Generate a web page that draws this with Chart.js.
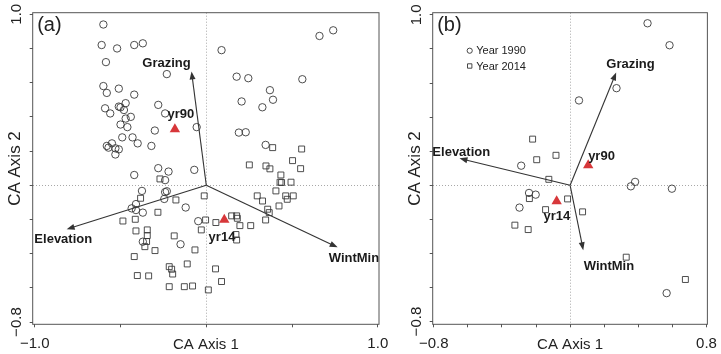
<!DOCTYPE html>
<html>
<head>
<meta charset="utf-8">
<script src="https://cdn.jsdelivr.net/npm/chart.js@4.4.0/dist/chart.umd.min.js"></script>
<style>
  html, body { margin: 0; padding: 0; background: #fff; overflow: hidden; }
  #wrap { position: relative; width: 721px; height: 354px; }
  canvas { position: absolute; top: 0; }
  #chartA { left: 0; }
  #chartB { left: 400px; }
</style>
</head>
<body>
<div id="wrap">
  <canvas id="chartA" width="400" height="354"></canvas>
  <canvas id="chartB" width="325" height="354"></canvas>
</div>
<script>
// ---- panel (a): site scores
const sites90XA = [-0.60, -0.61, -0.52, -0.42, -0.37, -0.585, -0.23, -0.60, -0.58, -0.51, -0.42, -0.59, -0.56, -0.51, -0.50, -0.47, -0.48, -0.44, -0.47, -0.50, -0.46, -0.28, -0.24, -0.30, -0.056, -0.49, -0.43, -0.40, -0.58, -0.55, -0.57, -0.53, -0.51, -0.53, -0.32, -0.28, -0.22, -0.07, -0.42, -0.24, -0.375, -0.24, -0.23, -0.245, -0.41, -0.435, -0.41, -0.37, -0.12, -0.047, -0.37, -0.15, 0.089, 0.177, 0.245, 0.56, 0.66, 0.74, 0.371, 0.206, 0.389, 0.327, 0.19, 0.23, 0.346];
const sites90YA = [0.94, 0.82, 0.80, 0.82, 0.83, 0.72, 0.65, 0.58, 0.54, 0.565, 0.53, 0.45, 0.42, 0.46, 0.456, 0.48, 0.44, 0.40, 0.39, 0.355, 0.34, 0.47, 0.42, 0.32, 0.34, 0.28, 0.28, 0.245, 0.23, 0.245, 0.22, 0.216, 0.21, 0.18, 0.23, 0.10, 0.08, 0.09, 0.06, 0.03, -0.033, -0.04, -0.035, -0.08, -0.11, -0.135, -0.145, -0.16, -0.13, -0.21, -0.33, -0.345, 0.79, 0.635, 0.626, 0.62, 0.873, 0.906, 0.556, 0.49, 0.50, 0.456, 0.308, 0.31, 0.236];
const sites14XA = [-0.27, -0.383, -0.177, -0.012, -0.282, -0.486, -0.414, -0.41, -0.344, -0.344, -0.348, -0.358, -0.187, -0.299, -0.42, -0.066, -0.111, -0.216, -0.202, -0.196, -0.402, -0.336, -0.216, -0.128, -0.08, 0.012, -0.004, 0.056, -0.029, 0.148, 0.177, 0.181, 0.196, 0.259, 0.173, 0.177, 0.054, 0.089, 0.297, 0.328, 0.406, 0.424, 0.463, 0.472, 0.507, 0.358, 0.367, 0.346, 0.387, 0.556, 0.251, 0.348, 0.371, 0.503, 0.55, 0.435, 0.43, 0.439, 0.494];
const sites14YA = [0.037, -0.076, -0.086, -0.062, -0.158, -0.209, -0.199, -0.267, -0.261, -0.294, -0.329, -0.359, -0.296, -0.382, -0.417, -0.378, -0.46, -0.476, -0.491, -0.519, -0.528, -0.53, -0.593, -0.593, -0.589, -0.612, -0.203, -0.218, -0.261, -0.179, -0.179, -0.193, -0.236, -0.236, -0.288, -0.32, -0.489, -0.563, -0.062, -0.092, -0.033, -0.121, -0.062, -0.082, -0.062, -0.14, -0.16, -0.203, 0.22, 0.212, 0.119, 0.113, 0.096, 0.144, 0.097, 0.06, 0.018, 0.016, 0.018];
const centroidXA = [-0.183, 0.105];
const centroidYA = [0.328, -0.202];
const envXA = [-0.086, -0.814, 0.766];
const envYA = [0.665, -0.257, -0.363];

// ---- panel (b): site scores
const sites90XB = [0.454, 0.583, 0.272, 0.052, -0.287, -0.241, -0.202, -0.297, 0.381, 0.356, 0.597, 0.566];
const sites90YB = [0.951, 0.822, 0.57, 0.498, 0.115, -0.045, -0.055, -0.131, 0.02, -0.006, -0.02, -0.633];
const sites14XB = [-0.22, -0.196, -0.083, -0.125, -0.239, -0.144, -0.015, 0.073, -0.324, -0.246, 0.329, 0.676];
const sites14YB = [0.271, 0.15, 0.176, 0.035, -0.078, -0.143, -0.08, -0.156, -0.234, -0.26, -0.422, -0.553];
const centroidXB = [0.106, -0.079];
const centroidYB = [0.117, -0.093];
const envXB = [0.27, -0.649, 0.077];
const envYB = [0.662, 0.158, -0.381];

const envNames = ["Grazing", "Elevation", "WintMin"];
const centroidNames = ["yr90", "yr14"];
const seriesNames = ["Year 1990", "Year 2014"];

// ---- ticks
const xTicksA = [-1, -0.5, 0, 0.5, 1];
const xTickLabelsA = ["\u22121.0", "", "", "", "1.0"];
const xTicksB = [-0.8, -0.6, -0.4, -0.2, 0, 0.2, 0.4, 0.6, 0.8];
const xTickLabelsB = ["\u22120.8", "", "", "", "", "", "", "", "0.8"];
const yTicks = [-0.8, -0.6, -0.4, -0.2, 0, 0.2, 0.4, 0.6, 0.8, 1.0];
const yTickLabels = ["\u22120.8", "", "", "", "", "", "", "", "", "1.0"];

const FONT = "'Liberation Sans', Arial, Helvetica, sans-serif";
Chart.defaults.font.family = FONT;
Chart.defaults.color = "#222";

const toPts = (xs, ys) => xs.map((x, i) => ({ x, y: ys[i] }));

function drawArrow(ctx, x0, y0, x1, y1) {
  const a = Math.atan2(y1 - y0, x1 - x0);
  const len = 8, hw = 3;
  const c = Math.cos(a), s = Math.sin(a);
  ctx.beginPath();
  ctx.moveTo(x0, y0);
  ctx.lineTo(x1 - c * len * 0.7, y1 - s * len * 0.7);
  ctx.stroke();
  ctx.beginPath();
  ctx.moveTo(x1, y1);
  ctx.lineTo(x1 - c * len + s * hw, y1 - s * len - c * hw);
  ctx.lineTo(x1 - c * len - s * hw, y1 - s * len + c * hw);
  ctx.closePath();
  ctx.fill();
}

// arrows, labels, panel letter, legend and box
function makeOverlay(p) {
  return {
    id: "overlay",
    beforeDatasetsDraw(chart) {
      const { ctx, scales: { x, y } } = chart;
      ctx.save();
      ctx.strokeStyle = "#333";
      ctx.fillStyle = "#333";
      ctx.lineWidth = 1.1;
      p.envX.forEach((ex, i) => {
        drawArrow(ctx, x.getPixelForValue(0), y.getPixelForValue(0),
          x.getPixelForValue(ex), y.getPixelForValue(p.envY[i]));
      });
      ctx.restore();
    },
    afterDatasetsDraw(chart) {
      const { ctx, chartArea: ca, scales: { x, y } } = chart;
      ctx.save();
      ctx.fillStyle = "#1a1a1a";
      ctx.font = "bold 13px " + FONT;
      ctx.textAlign = "center";
      ctx.textBaseline = "middle";
      envNames.forEach((n, i) => {
        ctx.fillText(n, x.getPixelForValue(p.envX[i]) + p.envDx[i], y.getPixelForValue(p.envY[i]) + p.envDy[i]);
      });
      centroidNames.forEach((n, i) => {
        ctx.fillText(n, x.getPixelForValue(p.cenX[i]) + p.cenDx[i], y.getPixelForValue(p.cenY[i]) + p.cenDy[i]);
      });
      // panel letter
      ctx.font = "20px " + FONT;
      ctx.textAlign = "left";
      ctx.fillStyle = "#222";
      ctx.fillText(p.letter, ca.left + 4.5, ca.top + 12.5);
      // legend
      if (p.legend) {
        ctx.font = "11px " + FONT;
        ctx.strokeStyle = "#333";
        ctx.lineWidth = 0.9;
        seriesNames.forEach((n, i) => {
          const ly = ca.top + 38 + i * 15.3;
          const lx = ca.left + 37;
          ctx.beginPath();
          if (i === 0) ctx.arc(lx, ly, 2.6, 0, Math.PI * 2);
          else ctx.rect(lx - 2.2, ly - 2.2, 4.4, 4.4);
          ctx.stroke();
          ctx.fillText(n, lx + 6.5, ly + 0.5);
        });
      }
      ctx.restore();
    },
    afterDraw(chart) {
      const { ctx, chartArea: ca } = chart;
      ctx.save();
      ctx.strokeStyle = "#555";
      ctx.lineWidth = 1;
      ctx.strokeRect(ca.left, ca.top, ca.right - ca.left, ca.bottom - ca.top);
      ctx.restore();
    }
  };
}

function axisOpts(ticks, labels, min, max, title, horizontal) {
  return {
    type: "linear",
    min, max,
    afterBuildTicks: s => { s.ticks = ticks.map(v => ({ value: v })); },
    afterFit: s => {
      if (horizontal) s.height = 29.7; else s.width = 32.7;
    },
    ticks: horizontal
      ? { callback: (v, i) => labels[i], font: { size: 15 }, color: "#222", padding: 8, maxRotation: 0, autoSkip: false }
      : { callback: (v, i) => labels[i], font: { size: 15 }, color: "#222", padding: -1.6, minRotation: 90, maxRotation: 90, crossAlign: "center", autoSkip: false },
    grid: {
      color: c => (c.tick && c.tick.value === 0 ? "#a8a8a8" : "rgba(0,0,0,0)"),
      tickColor: "#555",
      tickLength: 3,
      lineWidth: 1
    },
    border: { display: false, dash: [1, 2] },
    title: {
      display: true,
      text: title,
      font: { size: horizontal ? 15 : 17 },
      color: "#222",
      padding: horizontal ? { top: 0, bottom: 0 } : { top: 4.8, bottom: 0 }
    }
  };
}

function makeChart(id, p) {
  return new Chart(document.getElementById(id), {
    type: "scatter",
    data: {
      datasets: [
        {
          label: seriesNames[0],
          data: toPts(p.s90x, p.s90y),
          pointStyle: "circle",
          radius: 3.7,
          borderColor: "#3a3a3a",
          backgroundColor: "rgba(0,0,0,0)",
          borderWidth: 0.9
        },
        {
          label: seriesNames[1],
          data: toPts(p.s14x, p.s14y),
          pointStyle: "rect",
          radius: 4.2,
          borderColor: "#3a3a3a",
          backgroundColor: "rgba(0,0,0,0)",
          borderWidth: 0.9
        },
        {
          label: "centroids",
          data: toPts(p.cenX, p.cenY),
          pointStyle: "triangle",
          radius: 6,
          borderColor: "#d7373a",
          backgroundColor: "#d7373a",
          borderWidth: 0
        }
      ]
    },
    options: {
      responsive: false,
      animation: false,
      devicePixelRatio: 1,
      layout: { padding: { top: 12.7, right: p.padRight, bottom: 0, left: 0 } },
      plugins: { legend: { display: false }, tooltip: { enabled: false } },
      scales: {
        x: axisOpts(p.xTicks, p.xTickLabels, p.xMin, p.xMax, "CA Axis 1", true),
        y: axisOpts(yTicks, yTickLabels, p.yMin, p.yMax, "CA Axis 2", false)
      }
    },
    plugins: [makeOverlay(p)]
  });
}

makeChart("chartA", {
  letter: "(a)", legend: false, padRight: 21,
  s90x: sites90XA, s90y: sites90YA, s14x: sites14XA, s14y: sites14YA,
  cenX: centroidXA, cenY: centroidYA, cenDx: [6, -2.3], cenDy: [-14.5, 17.2],
  envX: envXA, envY: envYA, envDx: [-25, -3.4, 16.3], envDy: [-8.6, 9.8, 10.6],
  xTicks: xTicksA, xTickLabels: xTickLabelsA,
  xMin: -1.012, xMax: 1.007, yMin: -0.813, yMax: 1.009
});

makeChart("chartB", {
  letter: "(b)", legend: true, padRight: 13.3,
  s90x: sites90XB, s90y: sites90YB, s14x: sites14XB, s14y: sites14YB,
  cenX: centroidXB, cenY: centroidYB, cenDx: [13.3, 0.3], cenDy: [-9.1, 15.2],
  envX: envXB, envY: envYB, envDx: [14.3, 1.8, 25.7], envDy: [-7.7, -6.4, 16],
  xTicks: xTicksB, xTickLabels: xTickLabelsB,
  xMin: -0.806, xMax: 0.805, yMin: -0.816, yMax: 1.013
});
</script>
</body>
</html>
